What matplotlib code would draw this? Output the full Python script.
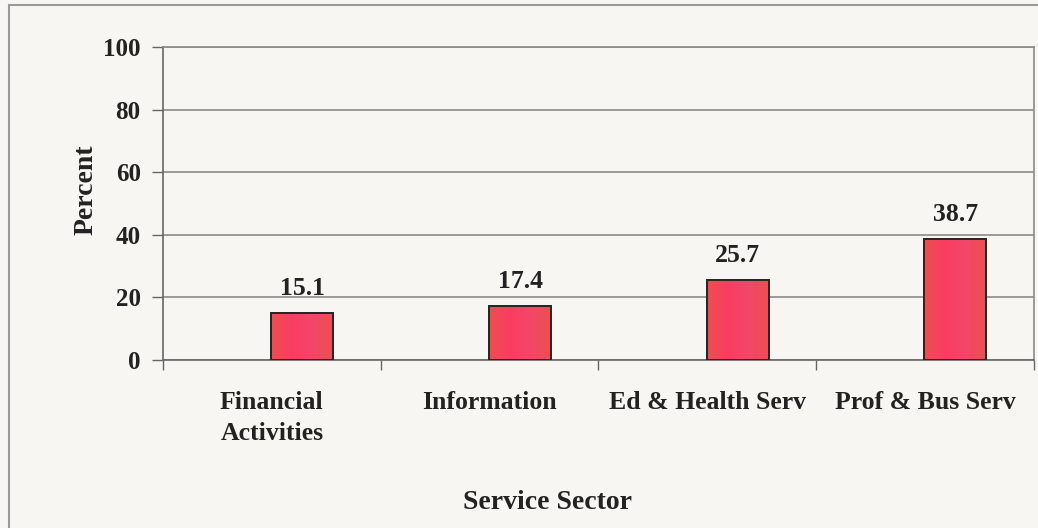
import matplotlib.pyplot as plt
import numpy as np
from matplotlib.patches import Rectangle
from matplotlib.colors import LinearSegmentedColormap

# sectores de servicio y porcentaje
sectores = ['Financial\nActivities', 'Information', 'Ed & Health Serv', 'Prof & Bus Serv']
porcentajes = [15.1, 17.4, 25.7, 38.7]
ticks_y = [0, 20, 40, 60, 80, 100]

plt.rcParams['font.family'] = ['Liberation Serif', 'DejaVu Serif']
plt.rcParams['font.weight'] = 'bold'

fondo = '#f8f6f3'
fig = plt.figure(figsize=(10.38, 5.28), dpi=100, facecolor=fondo)
ax = fig.add_axes([0.157, 0.318, 0.839, 0.593])
ax.set_facecolor(fondo)

x = np.arange(len(sectores))
desplaz = 0.14  # las barras quedan corridas a la derecha del centro de cada categoria
barras = ax.bar(x + desplaz, porcentajes, width=0.285, color='#f2445c',
                edgecolor='#2a2a2a', linewidth=1.3, zorder=3)

# degradado horizontal dentro de cada barra
degradado = LinearSegmentedColormap.from_list('rojo', ['#ec4f4f', '#fa3d62', '#f4466a', '#ec4f4f'])
for b in barras:
    x0, y0 = b.get_x(), b.get_y()
    im = ax.imshow(np.linspace(0, 1, 64).reshape(1, -1), cmap=degradado, aspect='auto',
                   extent=(x0, x0 + b.get_width(), y0, y0 + b.get_height()),
                   zorder=3.5, interpolation='bicubic')
    im.set_clip_path(b)
    ax.add_patch(Rectangle((x0, y0), b.get_width(), b.get_height(), fill=False,
                           edgecolor='#262626', linewidth=1.4, zorder=4))

# etiquetas de valor sobre cada barra
for xi, v in zip(x + desplaz, porcentajes):
    ax.annotate(f'{v:.1f}', (xi, v), xytext=(0, 9), textcoords='offset points',
                ha='center', va='bottom', fontsize=18.5, fontweight='bold', color='#222')

ax.set_xlim(-0.5, len(sectores) - 0.5)
ax.set_ylim(0, 100)
ax.set_yticks(ticks_y)
ax.yaxis.grid(True, color='#8a8a8a', linewidth=1.2, zorder=0)
ax.set_axisbelow(True)

# marcas del eje x entre categorias, nombres centrados sin marca
ax.set_xticks(np.arange(len(sectores) + 1) - 0.5)
ax.set_xticklabels([])
ax.set_xticks(x, minor=True)
ax.set_xticklabels(sectores, minor=True, fontsize=18.5, fontweight='bold',
                   color='#222', linespacing=1.45)
ax.tick_params(axis='x', which='minor', length=0, pad=22)
ax.tick_params(axis='x', which='major', length=7, color='#666', width=1)
ax.tick_params(axis='y', length=8, color='#666', width=1, labelsize=18,
               labelcolor='#222', pad=8)

for s in ['left', 'bottom']:
    ax.spines[s].set_color('#666')
    ax.spines[s].set_linewidth(1.2)
for s in ['top', 'right']:
    ax.spines[s].set_color('#8a8a8a')
    ax.spines[s].set_linewidth(1.2)

ax.set_ylabel('Percent', fontsize=20, fontweight='bold', color='#222')
ax.yaxis.set_label_coords(-0.074, 0.545)
fig.text(0.527, 0.049, 'Service Sector', ha='center', va='center',
         fontsize=20, fontweight='bold', color='#222')

# marco del grafico
fig.patches.append(Rectangle((9 / 1038, -0.05), 1.0, 1 - 5 / 528 + 0.05,
                             transform=fig.transFigure, fill=False,
                             edgecolor='#9a9a9a', linewidth=1.5))

plt.savefig('out.png', dpi=100, facecolor=fondo)
